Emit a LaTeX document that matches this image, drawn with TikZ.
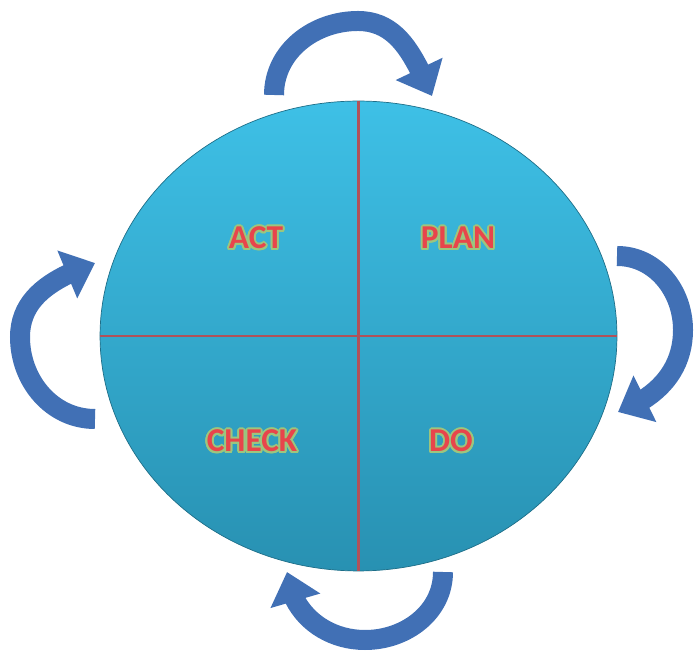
\documentclass[tikz,border=0pt]{standalone}
\usepackage{fontspec}
\setmainfont{Carlito}
\usepackage{contour}
\usetikzlibrary{shapes.geometric,arrows.meta,bending}
\definecolor{wheeltop}{HTML}{3EC0E6}
\definecolor{wheelbot}{HTML}{2891B2}
\definecolor{wheelrim}{HTML}{1E6E88}
\definecolor{splitred}{HTML}{B0525A}
\definecolor{stagered}{HTML}{E8454B}
\definecolor{glowgreen}{HTML}{9CC67E}
\definecolor{loopblue}{HTML}{4170B5}
\contourlength{1.1pt}

\begin{document}
\begin{tikzpicture}[x=0.02cm,y=0.02cm,
  stage/.style={font=\bfseries\fontsize{19}{22}\selectfont,text=stagered},
  loop/.style={draw=loopblue,line width=0.4cm,-{Triangle[width=1cm,length=0.6cm]}}]
\useasboundingbox (0,0) rectangle (695,655);
\node[ellipse,inner sep=0,minimum width=10.34cm,minimum height=9.4cm,top color=wheeltop,bottom color=wheelbot,draw=wheelrim,thin] (wheel) at (358.5,319) {};
\draw[splitred,line width=1.6pt] (wheel.north) -- (wheel.south);
\draw[splitred,line width=1.6pt] (wheel.west) -- (wheel.east);
% the four stages
\node[stage] (act) at (256,416) {\contour{glowgreen}{ACT}};
\node[stage] (plan) at (458,416) {\contour{glowgreen}{PLAN}};
\node[stage] (check) at (252,213) {\contour{glowgreen}{CHECK}};
\node[stage] (do) at (451,213) {\contour{glowgreen}{DO}};
% curved arrows round the wheel
\draw[loop] (274,560) to[out=90,in=180] (358,634) to[out=0,in=115] (432,559);
\draw[loop] (617,399) to[out=0,in=90] (683,325) to[out=-90,in=20] (618,243);
\draw[loop] (443,83) to[out=-90,in=0] (365,15) to[out=180,in=-85] (287,83);
\draw[loop] (95,236) to[out=180,in=-90] (20,318) to[out=90,in=200] (95,392);
\end{tikzpicture}
\end{document}
